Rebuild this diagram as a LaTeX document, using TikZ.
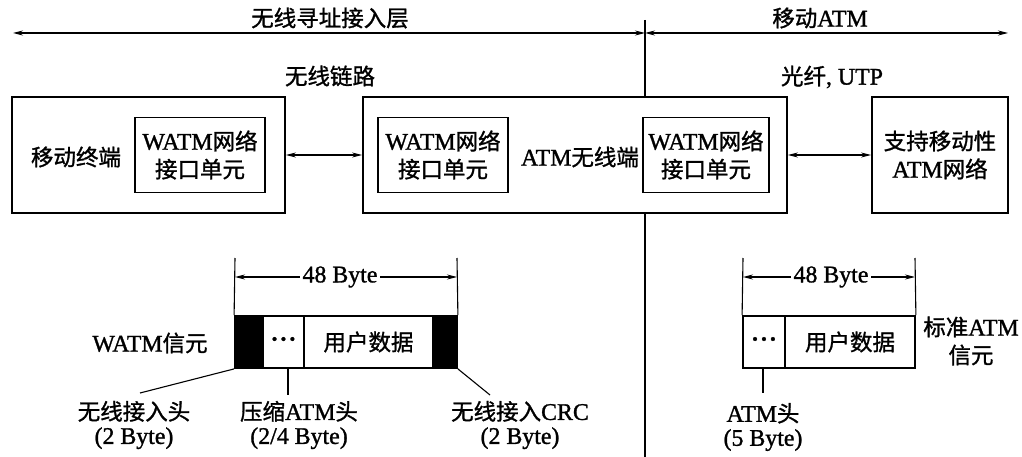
\documentclass[tikz,border=0pt]{standalone}
\usepackage{fontspec}
\setmainfont[Scale=1.06,FakeBold=1.2]{Liberation Serif}
\newfontfamily\cjk[FakeBold=1.2]{Noto Sans CJK SC}
\newcommand\zh[1]{{\cjk #1}}
\newcommand\fs{\fontsize{22.5}{28}\selectfont}
\newcommand\fsb{\fontsize{22.5}{24}\selectfont}
\newcommand\mydots{\textbf{\textperiodcentered\kern1pt\textperiodcentered\kern1pt\textperiodcentered}}
\usetikzlibrary{arrows.meta}
\begin{document}
\begin{tikzpicture}[x=1pt,y=-1pt,
  txt/.style={font=\fs, inner sep=0pt, align=center},
  txtb/.style={font=\fsb, inner sep=0pt, align=center},
  outerbox/.style={draw, line width=1.8pt, inner sep=0pt},
  innerbox/.style={draw, line width=1.8pt, inner sep=0pt, minimum height=75pt, align=center, font=\fs},
  conn/.style={line width=1.1pt, {Stealth[length=10pt,width=5pt]}-{Stealth[length=10pt,width=5pt]}},
  thinline/.style={line width=1.1pt},
  seg/.style={draw, line width=1.8pt, inner sep=0pt, minimum height=52pt, font=\fs},
  blk/.style={seg, fill=black}
]
\useasboundingbox (0,0) rectangle (1022,457);

% top arrows
\coordinate (aL) at (13,33);
\coordinate (aM) at (645,33);
\coordinate (aR) at (1008,33);
\draw[conn] (aL) -- (aM);
\draw[conn] (aM) -- (aR);
\node[txt] (tl) at (330,18) {\zh{无线寻址接入层}};
\node[txt] (tr) at (820,18) {\zh{移动}ATM};
\node[txt] (wl) at (330,76) {\zh{无线链路}};
\node[txt] (gx) at (832,77) {\zh{光纤}, UTP};

% boxes
\node[outerbox, minimum width=273pt, minimum height=116pt] (b1) at (148.5,155) {};
\node[txt] (b1t) at (76,157) {\zh{移动终端}};
\node[innerbox, minimum width=130pt] (i1) at (200,155) {WATM\zh{网络}\\\zh{接口单元}};

\node[outerbox, minimum width=424pt, minimum height=116pt] (b2) at (575,155) {};
\node[innerbox, minimum width=130pt] (i2) at (443,155) {WATM\zh{网络}\\\zh{接口单元}};
\node[txt] (b2t) at (580,157) {ATM\zh{无线端}};
\node[innerbox, minimum width=126pt] (i3) at (706,155) {WATM\zh{网络}\\\zh{接口单元}};

\node[outerbox, minimum width=136pt, minimum height=116pt, align=center, font=\fs] (b3) at (940,155) {\zh{支持移动性}\\ATM\zh{网络}};

\draw[conn] (b1.east) -- (b2.west);
\draw[conn] (b2.east) -- (b3.west);

% vertical divider
\coordinate (vt) at (645,20);
\coordinate (vb) at (645,457);
\draw[thinline] (vt) -- (vt |- b2.north);
\draw[thinline] (vt |- b2.south) -- (vb);

% WATM cell
\node[blk, minimum width=28pt] (hl) at (249,342) {};
\node[seg, minimum width=41pt] (d1) at (283.5,342) {\mydots};
\node[seg, minimum width=129pt] (u1) at (368.5,342) {\zh{用户数据}};
\node[blk, minimum width=24pt] (hr) at (445,342) {};
\node[txt] (wc) at (150,343) {WATM\zh{信元}};

\coordinate (e1) at (235,258);
\coordinate (e2) at (457,258);
\draw[thinline] (hl.north west) -- (e1);
\draw[thinline] (hr.north east) -- (e2);
\coordinate (m1) at (235,277);
\coordinate (m2) at (457,277);
\draw[conn] (m1) -- (m2);
\node[txt, fill=white, inner xsep=3pt] (by1) at (340,277) {48 Byte};

\coordinate (l1) at (140,393);
\coordinate (l2) at (288,395);
\coordinate (l3) at (490,395);
\draw[thinline] (hl.south west) -- (l1);
\draw[thinline] (l2 |- d1.south) -- (l2);
\draw[thinline] (hr.south east) -- (l3);
\node[txtb] (lb1) at (134,425) {\zh{无线接入头}\\(2 Byte)};
\node[txtb] (lb2) at (299,425) {\zh{压缩}ATM\zh{头}\\(2/4 Byte)};
\node[txtb] (lb3) at (520,425) {\zh{无线接入}CRC\\(2 Byte)};

% standard ATM cell
\node[seg, minimum width=42pt] (d2) at (764,342) {\mydots};
\node[seg, minimum width=130pt] (u2) at (850,342) {\zh{用户数据}};
\node[txt] (sc) at (971,341) {\zh{标准}ATM\\\zh{信元}};
\coordinate (e3) at (743,258);
\coordinate (e4) at (915,258);
\draw[thinline] (d2.north west) -- (e3);
\draw[thinline] (u2.north east) -- (e4);
\coordinate (m3) at (743,277);
\coordinate (m4) at (915,277);
\draw[conn] (m3) -- (m4);
\node[txt, fill=white, inner xsep=3pt] (by2) at (831,277) {48 Byte};
\coordinate (l4) at (763,393);
\draw[thinline] (l4 |- d2.south) -- (l4);
\node[txtb] (lb4) at (763,427) {ATM\zh{头}\\(5 Byte)};
\end{tikzpicture}
\end{document}
